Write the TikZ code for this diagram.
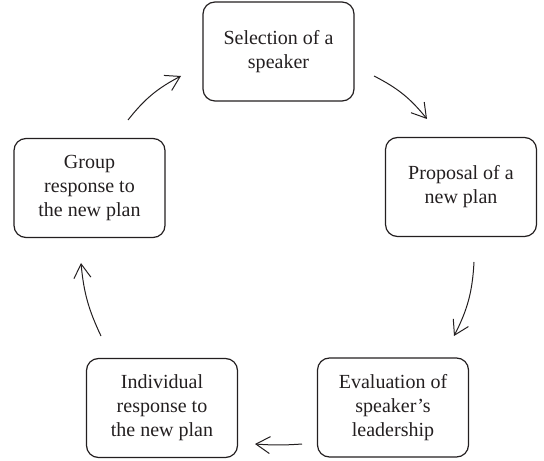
\documentclass[tikz,border=0pt]{standalone}
\usepackage{fontspec}
\setmainfont{Liberation Serif}
\usepackage{tikz}
\usetikzlibrary{arrows.meta, positioning, calc}
\definecolor{inkgray}{RGB}{35,31,32}

\begin{document}
\begin{tikzpicture}[
    x=0.5pt, y=0.5pt,
    stage/.style={rectangle, draw=inkgray, line width=0.6pt, rounded corners=6pt,
                  minimum width=75.5pt, minimum height=49.5pt, align=center,
                  font=\fontsize{10}{12}\selectfont, text=inkgray, inner sep=2pt},
    flow/.style={draw=inkgray, line width=0.5pt, bend left=12,
                 -{Straight Barb[length=7pt,width=8.5pt]}}
]
\useasboundingbox (0,0) rectangle (544,460);

\node[stage] (select) at (278.5,408.5) {Selection of a\\speaker};
\node[stage] (propose) at (461,273) {Proposal of a\\new plan};
\node[stage] (evaluate) at (393,52.5) {Evaluation of\\speaker's\\leadership};
\node[stage] (indiv) at (162,52) {Individual\\response to\\the new plan};
\node[stage] (group) at (89.5,272) {Group\\response to\\the new plan};

% cycle arrows
\draw[flow] ($(select)+(95.5,-24.5)$) to ($(propose)+(-34,68)$);
\draw[flow] ($(propose)+(13,-75)$) to ($(evaluate)+(61,71.5)$);
\draw[flow, bend left=4] ($(evaluate)+(-91,-36.5)$) to ($(indiv)+(93,-36)$);
\draw[flow, bend left=10] ($(indiv)+(-61,72)$) to ($(group)+(-8.5,-75)$);
\draw[flow] ($(group)+(38.5,68)$) to ($(select)+(-97.5,-24.5)$);
\end{tikzpicture}
\end{document}
